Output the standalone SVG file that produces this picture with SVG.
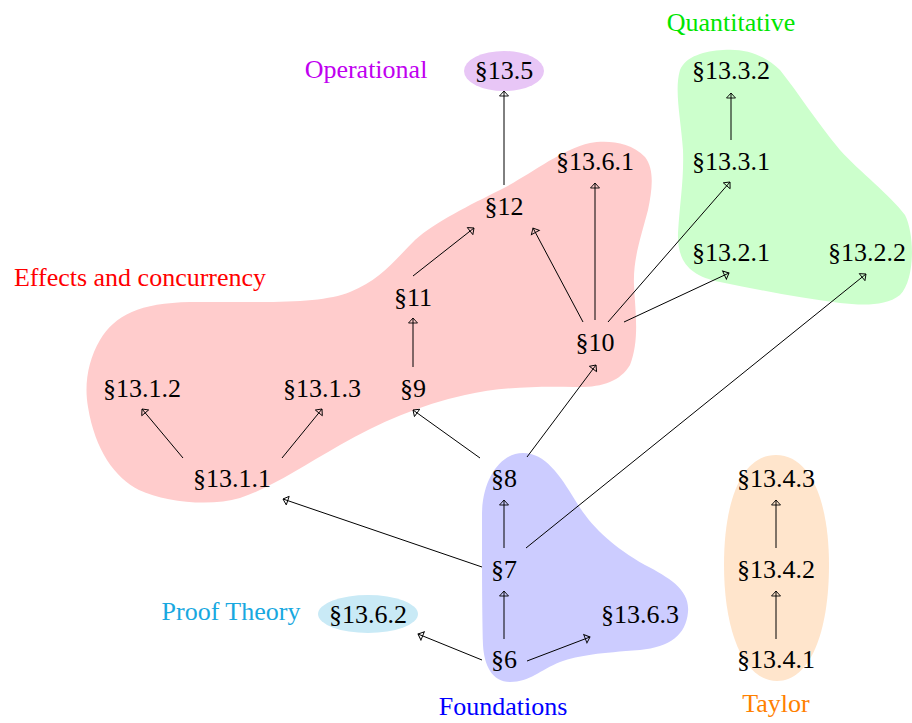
<svg xmlns="http://www.w3.org/2000/svg" width="912" height="723" viewBox="0 0 912 723">
<defs>
<style>
text{font-family:"Liberation Serif","Times New Roman",serif;font-size:26px;text-anchor:middle;fill:#000}
.edge{stroke:#000;stroke-width:1;fill:none;marker-end:url(#ah)}
</style>
<marker id="ah" viewBox="-7 -6 8 12" markerWidth="8" markerHeight="12" refX="0" refY="0" orient="auto" markerUnits="userSpaceOnUse">
<path d="M0,0 L-5,-4.5 L-5,4.5 Z" fill="none" stroke="#000" stroke-width="0.9"/>
</marker>
</defs>
<rect width="912" height="723" fill="#fff"/>
<g id="regions">
<path id="effects-region" fill="#ffcccc" d="M88,407 C84,385 88,360 100,340 C115,315 140,303 190,302 L258,302 C300,302 330,300 350,292 C380,280 395,260 415,240 C435,222 470,205 500,190 C530,175 560,150 590,143 C605,140 630,141 645,157 C655,170 652,190 648,210 C640,240 633,260 634,285 C635,310 640,340 630,365 C620,382 600,388 574,387 C540,386 500,387 465,395 C420,405 380,422 340,445 C300,468 270,488 240,498 C210,507 165,502 139,490 C115,478 95,450 88,407 Z"/>
<path id="quant-region" fill="#ccffcc" d="M723,50 C745,48 765,55 780,70 C800,95 815,120 840,150 C860,172 890,195 905,215 C915,235 915,280 900,295 C885,307 860,305 840,303 C800,298 760,290 720,282 C690,276 677,262 678,233 C680,200 684,180 683,150 C681,120 674,90 680,70 C686,56 705,51 723,50 Z"/>
<path id="found-region" fill="#ccccff" d="M523,453 C545,453 560,475 575,500 C590,525 610,545 645,565 C670,578 690,590 688,612 C686,635 670,647 640,650 C600,653 580,655 560,662 C540,670 530,682 510,682 C492,682 484,665 483,645 C482,610 482,560 482,515 C482,480 500,453 523,453 Z"/>
<path id="taylor-region" fill="#ffe5cc" d="M776,455 C810,455 829,500 829,565 C829,632 810,681 777,681 C744,681 724,632 724,565 C724,500 742,455 776,455 Z"/>
</g>
<g id="connectors">
<line class="edge" x1="504" y1="185" x2="504" y2="91"/>
<line class="edge" x1="731" y1="140" x2="731" y2="93"/>
<line class="edge" x1="595" y1="320" x2="595" y2="183"/>
<line class="edge" x1="583" y1="322" x2="533" y2="228"/>
<line class="edge" x1="608" y1="322" x2="730" y2="182"/>
<line class="edge" x1="624" y1="322" x2="729" y2="273"/>
<line class="edge" x1="413" y1="276" x2="474" y2="228"/>
<line class="edge" x1="413" y1="367" x2="413" y2="318"/>
<line class="edge" x1="183" y1="458" x2="142" y2="409"/>
<line class="edge" x1="282" y1="458" x2="322" y2="409"/>
<line class="edge" x1="480" y1="458" x2="413" y2="410"/>
<line class="edge" x1="527" y1="457" x2="596" y2="365"/>
<line class="edge" x1="504" y1="548" x2="504" y2="500"/>
<line class="edge" x1="482" y1="567" x2="283" y2="499"/>
<line class="edge" x1="526" y1="548" x2="866" y2="274"/>
<line class="edge" x1="504" y1="639" x2="504" y2="591"/>
<line class="edge" x1="482" y1="660" x2="418" y2="634"/>
<line class="edge" x1="527" y1="661" x2="590" y2="637"/>
<line class="edge" x1="776" y1="639" x2="776" y2="591"/>
<line class="edge" x1="776" y1="548" x2="776" y2="500"/>
</g>
<g id="labels">
<text x="366" y="78" style="fill:#c000f0">Operational</text>
<text x="731" y="31" style="fill:#00e600">Quantitative</text>
<text x="140" y="286" style="fill:#ff0000">Effects and concurrency</text>
<text x="231" y="620" style="fill:#18a8e0">Proof Theory</text>
<text x="503" y="715" style="fill:#0000ff">Foundations</text>
<text x="776" y="712" style="fill:#ff8000">Taylor</text>
</g>
<g id="n13_5"><ellipse cx="504" cy="71" rx="40" ry="20" fill="#e8c6f6"/><text x="504" y="79">§13.5</text></g>
<g id="n13_3_2"><text x="731" y="79">§13.3.2</text></g>
<g id="n13_3_1"><text x="731" y="170">§13.3.1</text></g>
<g id="n13_6_1"><text x="595" y="170">§13.6.1</text></g>
<g id="n12"><text x="504" y="215">§12</text></g>
<g id="n13_2_1"><text x="731" y="261">§13.2.1</text></g>
<g id="n13_2_2"><text x="867" y="261">§13.2.2</text></g>
<g id="n11"><text x="413" y="306">§11</text></g>
<g id="n10"><text x="595" y="351">§10</text></g>
<g id="n13_1_2"><text x="142" y="397">§13.1.2</text></g>
<g id="n13_1_3"><text x="322" y="397">§13.1.3</text></g>
<g id="n9"><text x="413" y="397">§9</text></g>
<g id="n13_1_1"><text x="232" y="487">§13.1.1</text></g>
<g id="n8"><text x="504" y="487">§8</text></g>
<g id="n13_4_3"><text x="776" y="487">§13.4.3</text></g>
<g id="n7"><text x="504" y="578">§7</text></g>
<g id="n13_4_2"><text x="776" y="578">§13.4.2</text></g>
<g id="n13_6_2"><ellipse cx="368" cy="614" rx="50" ry="19" fill="#c9eaf6"/><text x="368" y="623">§13.6.2</text></g>
<g id="n13_6_3"><text x="640" y="623">§13.6.3</text></g>
<g id="n6"><text x="504" y="668">§6</text></g>
<g id="n13_4_1"><text x="776" y="668">§13.4.1</text></g>
</svg>
